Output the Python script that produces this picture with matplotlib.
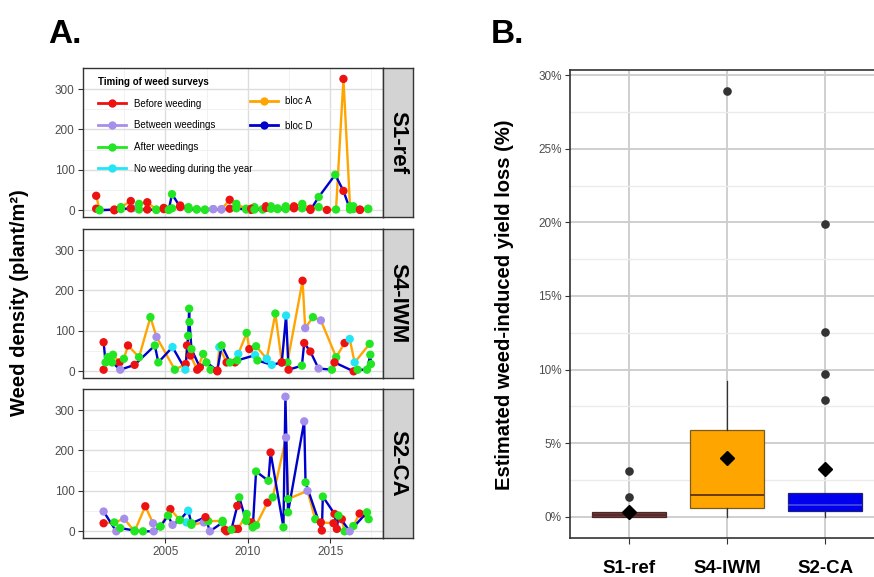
import numpy as np
import matplotlib.pyplot as plt
from matplotlib.lines import Line2D

plt.rcParams["font.family"] = "Liberation Sans"

# timing codes: B before weeding, W between weedings, A after weedings, N no weeding
timing_codes = ["B", "W", "A", "N"]
timing_names = ["Before weeding", "Between weedings", "After weedings", "No weeding during the year"]
timing_colors = {"B": "#EE1111", "W": "#A68FEA", "A": "#22E622", "N": "#22E5F5"}
bloc_names = ["bloc A", "bloc D"]
bloc_colors = ["#FFA500", "#0000CC"]

sites = ["S1-ref", "S4-IWM", "S2-CA"]

# ---- S1-ref ----
s1_yrA = [2000.8, 2001.0, 2001.9, 2002.3, 2002.9, 2003.0, 2003.4, 2003.9, 2004.45, 2004.9,
          2005.2, 2005.4, 2005.9, 2006.4, 2006.9, 2007.4, 2007.9, 2008.4, 2008.9, 2009.3,
          2009.9, 2010.2, 2010.4, 2010.9, 2011.1, 2011.4, 2011.8, 2012.3, 2012.8, 2013.3,
          2013.8, 2014.3, 2014.8, 2015.35, 2015.8, 2016.2, 2016.4, 2016.8, 2017.3]
s1_valA = [36, 2, 0, 8, 23, 5, 16, 20, 2, 6,
           2, 5, 12, 8, 3, 2, 3, 3, 26, 16,
           4, 1, 8, 3, 10, 10, 5, 10, 10, 16,
           4, 8, 1, 2, 325, 10, 10, 1, 4]
s1_timA = "BABABWABAB" "AABAAAWWBA" "ABAABAAABA" "BABABAABA"
s1_yrD = [2000.8, 2001.0, 2001.9, 2002.3, 2002.9, 2003.4, 2003.9, 2004.45, 2004.9, 2005.2,
          2005.4, 2005.9, 2006.4, 2006.9, 2007.4, 2007.9, 2008.4, 2008.9, 2009.3, 2009.9,
          2010.2, 2010.4, 2010.9, 2011.1, 2011.4, 2011.8, 2012.3, 2012.8, 2013.3, 2013.8,
          2014.3, 2015.3, 2015.8, 2016.2, 2016.4, 2016.8, 2017.3]
s1_valD = [4, 0, 2, 3, 5, 2, 2, 1, 3, 1,
           40, 8, 3, 2, 1, 3, 2, 4, 5, 2,
           4, 2, 2, 6, 4, 3, 3, 5, 5, 1,
           33, 88, 48, 2, 3, 2, 3]
s1_timD = "BABABABABA" "ABAAAWWBAA" "BAABAAABAB" "AABAABA"

# ---- S4-IWM ----
s4_yrA = [2001.25, 2001.51, 2001.82, 2002.22, 2002.48, 2002.73, 2003.4, 2004.09, 2004.46, 2005.57,
          2006.23, 2006.31, 2006.52, 2006.93, 2007.29, 2007.74, 2008.15, 2008.27, 2008.71, 2009.22,
          2009.42, 2009.93, 2010.09, 2010.5, 2011.15, 2011.67, 2012.06, 2012.4, 2013.32, 2013.48,
          2013.95, 2014.43, 2015.36, 2015.87, 2016.18, 2016.48, 2017.39]
s4_valA = [4, 35, 41, 22, 31, 64, 35, 134, 85, 4,
           18, 64, 39, 4, 43, 4, 0, 60, 22, 22,
           43, 95, 55, 62, 31, 143, 22, 22, 224, 107,
           134, 126, 35, 70, 80, 22, 68]
s4_timA = "BAABABAAWA" "BBBBAABNBB" "NABANABABW" "AWABNNA"
s4_yrD = [2001.25, 2001.37, 2001.77, 2002.26, 2003.13, 2004.36, 2004.57, 2005.43, 2006.21, 2006.38,
          2006.44, 2006.46, 2006.58, 2007.09, 2007.49, 2008.15, 2008.41, 2008.92, 2009.36, 2010.44,
          2010.58, 2011.45, 2012.06, 2012.32, 2012.47, 2013.28, 2013.42, 2013.79, 2014.29, 2015.1,
          2015.26, 2016.42, 2016.66, 2017.23, 2017.43, 2017.47]
s4_valD = [72, 22, 22, 4, 16, 64, 22, 60, 4, 88,
           155, 122, 55, 10, 22, 2, 64, 22, 27, 40,
           27, 16, 22, 138, 4, 14, 70, 49, 7, 4,
           22, 0, 4, 4, 41, 18]
s4_timD = "BAAWBAANNA" "AAABABAAAN" "ANBNBABBWA" "BBAAAA"

# ---- S2-CA ----
s2_yrA = [2001.25, 2001.9, 2002.5, 2003.13, 2003.78, 2004.25, 2004.7, 2005.3, 2005.87, 2006.28,
          2006.58, 2007.33, 2007.6, 2008.47, 2008.61, 2009.2, 2009.4, 2009.93, 2010.23, 2010.5,
          2011.19, 2011.51, 2012.32, 2012.44, 2013.62, 2014.09, 2014.43, 2015.2, 2015.7, 2015.87,
          2016.4, 2016.78, 2017.33]
s2_valA = [20, 22, 31, 0, 62, 20, 12, 55, 28, 22,
           16, 22, 25, 26, 4, 6, 6, 43, 22, 15,
           71, 84, 232, 80, 100, 30, 22, 20, 30, 0,
           13, 44, 30]
s2_timA = "BAWABWABAN" "AWAABBBABA" "BAWAWABBBA" "ABA"
s2_yrD = [2001.25, 2002.02, 2002.26, 2003.13, 2003.64, 2004.29, 2004.7, 2005.16, 2005.43, 2005.87,
          2006.38, 2006.58, 2007.43, 2007.7, 2008.47, 2008.71, 2009.0, 2009.36, 2009.48, 2009.89,
          2010.3, 2010.5, 2011.25, 2011.38, 2012.16, 2012.28, 2012.44, 2013.42, 2013.5, 2014.49,
          2014.55, 2015.26, 2015.4, 2015.5, 2016.18, 2017.23]
s2_valD = [49, 0, 8, 2, 0, 0, 12, 39, 16, 28,
           51, 20, 35, 0, 22, 0, 4, 63, 84, 26,
           10, 148, 125, 195, 10, 333, 47, 272, 121, 2,
           86, 43, 6, 39, 0, 47]
s2_timD = "WWAAAWAAWA" "NABWABABAA" "AAABAWAWAB" "ABBAWA"

panels = [
    [(s1_yrA, s1_valA, s1_timA), (s1_yrD, s1_valD, s1_timD)],
    [(s4_yrA, s4_valA, s4_timA), (s4_yrD, s4_valD, s4_timD)],
    [(s2_yrA, s2_valA, s2_timA), (s2_yrD, s2_valD, s2_timD)],
]

# ---- panel B: estimated yield loss (%) box statistics ----
box_q1 = [0.0, 0.58, 0.38]
box_med = [0.1, 1.49, 0.77]
box_q3 = [0.3, 5.87, 1.63]
box_lo = [0.0, 0.0, 0.0]
box_hi = [0.3, 9.25, 1.63]
box_fliers = [[1.31, 3.14], [28.92], [7.96, 9.72, 12.53, 19.9]]
box_mean = [0.31, 4.0, 3.26]
box_fill = ["#6E3A3A", "#FFA500", "#0000EE"]
box_edge = ["#4A2828", "#7A5A20", "#20207A"]
box_medcol = ["#5A2A2A", "#6B3A00", "#4040E0"]

W, H = 874, 577
fig = plt.figure(figsize=(W / 100, H / 100), dpi=100)


def px_axes(x0, y0, x1, y1):
    return fig.add_axes([x0 / W, 1 - y1 / H, (x1 - x0) / W, (y1 - y0) / H])


dark = "#333333"
tops = [68, 229, 389]
bots = [217, 378, 538]

for i, site in enumerate(sites):
    ax = px_axes(83, tops[i], 383, bots[i])
    for (yr, val, tim), col in zip(panels[i], bloc_colors):
        ax.plot(yr, val, color=col, lw=1.7, zorder=2)
    for yr, val, tim in panels[i]:
        ax.scatter(yr, val, c=[timing_colors[t] for t in tim], s=36, linewidths=0, zorder=3)
    ax.set_xlim(2000.0, 2018.2)
    ax.set_ylim(-16.5, 352)
    ax.set_yticks([0, 100, 200, 300])
    ax.set_yticks([50, 150, 250], minor=True)
    ax.set_xticks([2005, 2010, 2015])
    ax.set_xticks([2002.5, 2007.5, 2012.5, 2017.5], minor=True)
    ax.grid(which="major", color="#DDDDDD", lw=1.0)
    ax.grid(which="minor", color="#EFEFEF", lw=0.6)
    ax.set_axisbelow(True)
    ax.tick_params(which="minor", length=0)
    ax.tick_params(which="major", length=3.5, width=0.8, color=dark, labelsize=8.5,
                   labelcolor="#4D4D4D", pad=2.5)
    if i < 2:
        ax.tick_params(axis="x", bottom=False, labelbottom=False)
    for s in ax.spines.values():
        s.set_color(dark)
        s.set_linewidth(1.0)

    st = px_axes(383, tops[i], 413, bots[i])
    st.set_facecolor("#D3D3D3")
    st.set_xticks([])
    st.set_yticks([])
    for s in st.spines.values():
        s.set_color(dark)
        s.set_linewidth(1.0)
    st.text(0.5, 0.5, site, rotation=-90, ha="center", va="center", fontsize=16,
            fontweight="bold", transform=st.transAxes)

    if i == 0:
        h1 = [Line2D([], [], color=timing_colors[c], lw=2, marker="o", markersize=6,
                     markeredgewidth=0) for c in timing_codes]
        leg1 = ax.legend(h1, timing_names, title="Timing of weed surveys", loc="upper left",
                         bbox_to_anchor=(0.05, 0.94), frameon=False, fontsize=7,
                         title_fontproperties={"weight": "bold", "size": 7},
                         alignment="left", handlelength=2.9, handletextpad=0.8,
                         labelspacing=1.2, borderpad=0, borderaxespad=0)
        ax.add_artist(leg1)
        h2 = [Line2D([], [], color=c, lw=2, marker="o", markersize=6, markeredgewidth=0)
              for c in bloc_colors]
        ax.legend(h2, bloc_names, loc="upper left", bbox_to_anchor=(0.555, 0.81),
                  frameon=False, fontsize=7, handlelength=2.9, handletextpad=0.8,
                  labelspacing=1.5, borderpad=0, borderaxespad=0)

# ---- panel B ----
axB = px_axes(570, 70, 884, 538)
stats = []
for k in range(3):
    stats.append(dict(med=box_med[k], q1=box_q1[k], q3=box_q3[k], whislo=box_lo[k],
                      whishi=box_hi[k], fliers=box_fliers[k], mean=box_mean[k]))
bp = axB.bxp(stats, positions=[1, 2, 3], widths=0.75, patch_artist=True, showmeans=True,
             showcaps=False,
             meanprops=dict(marker="D", markerfacecolor="black", markeredgecolor="black",
                            markersize=7.5),
             flierprops=dict(marker="o", markerfacecolor=dark, markeredgecolor=dark,
                             markersize=5.2),
             whiskerprops=dict(color=dark, lw=0.9))
for k, b in enumerate(bp["boxes"]):
    b.set_facecolor(box_fill[k])
    b.set_edgecolor(box_edge[k])
    b.set_linewidth(0.9)
    b.set_zorder(2)
for k, m in enumerate(bp["medians"]):
    m.set_color(box_medcol[k])
    m.set_linewidth(1.4)
    m.set_zorder(2.5)
for m in bp["means"]:
    m.set_zorder(4)
for f in bp["fliers"]:
    f.set_zorder(4)

axB.set_xlim(0.4, 3.6)
axB.set_ylim(-1.445, 30.35)
yt = [0, 5, 10, 15, 20, 25, 30]
axB.set_yticks(yt)
axB.set_yticklabels([f"{v}%" for v in yt])
axB.set_yticks([2.5, 7.5, 12.5, 17.5, 22.5, 27.5], minor=True)
axB.set_xticks([1, 2, 3])
axB.set_xticklabels(sites, fontsize=13.5, fontweight="bold")
axB.grid(which="major", color="#CCCCCC", lw=1.3)
axB.grid(which="minor", axis="y", color="#EBEBEB", lw=1.0)
axB.set_axisbelow(True)
axB.tick_params(which="minor", length=0)
axB.tick_params(axis="y", length=3.5, width=0.8, color=dark, labelsize=8.5,
                labelcolor="#4D4D4D", pad=2.5)
axB.tick_params(axis="x", length=4, width=0.8, color=dark, pad=12)
for s in axB.spines.values():
    s.set_color(dark)
    s.set_linewidth(1.2)

fig.text(20 / W, 1 - 303 / H, "Weed density (plant/m²)", rotation=90, ha="center",
         va="center", fontsize=14.5, fontweight="bold")
fig.text(504 / W, 1 - 305 / H, "Estimated weed-induced yield loss (%)", rotation=90,
         ha="center", va="center", fontsize=14.5, fontweight="bold")
fig.text(48 / W, 1 - 43 / H, "A.", fontsize=24, fontweight="bold", va="baseline")
fig.text(491 / W, 1 - 43 / H, "B.", fontsize=24, fontweight="bold", va="baseline")

fig.savefig("out.png", dpi=100)
